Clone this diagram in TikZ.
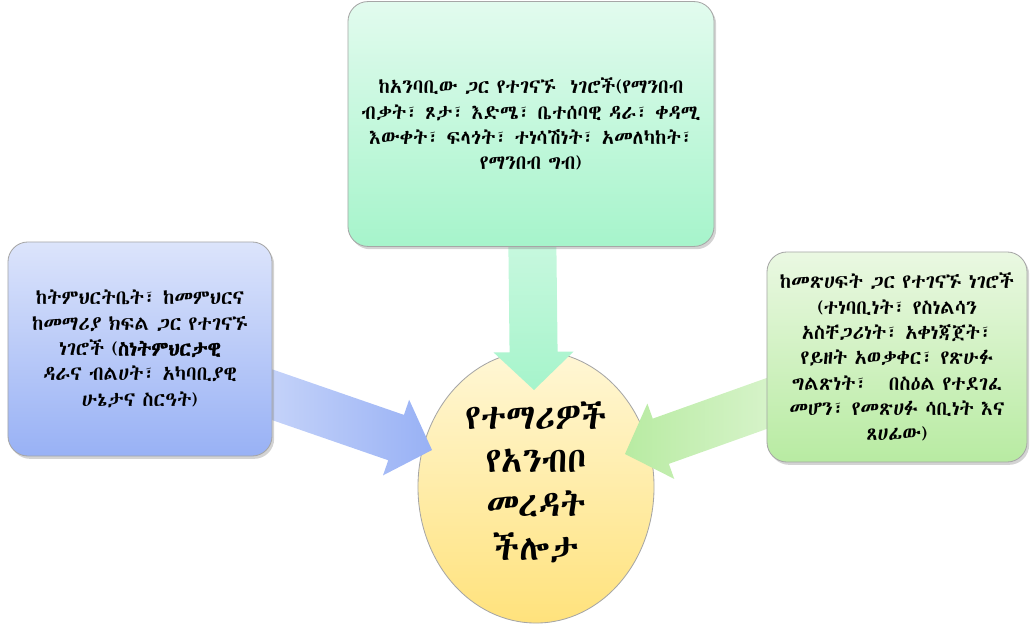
\documentclass[tikz,border=0pt]{standalone}
\usepackage{fontspec}
\IfFontExistsTF{Abyssinica SIL}{\newfontfamily\geez[AutoFakeBold=2,WordSpace=0.8]{Abyssinica SIL}}{%
 \IfFontExistsTF{FreeSerif}{\newfontfamily\geez[AutoFakeBold=2,WordSpace=0.8]{FreeSerif}}{%
  \IfFontExistsTF{Nyala}{\newfontfamily\geez[AutoFakeBold=2,WordSpace=0.8]{Nyala}}{%
   \newfontfamily\geez[AutoFakeBold=2,WordSpace=0.8]{Noto Sans Ethiopic}}}}
\usetikzlibrary{calc,shapes.geometric,shadows}
\pgfdeclarelayer{back}
\pgfsetlayers{back,main}
\definecolor{mintL}{HTML}{E2FBEE}\definecolor{mintD}{HTML}{A6F4CB}
\definecolor{blueL}{HTML}{DCE4FB}\definecolor{blueD}{HTML}{98B1F5}
\definecolor{greenL}{HTML}{EAF8E2}\definecolor{greenD}{HTML}{B8EBA2}
\definecolor{sunL}{HTML}{FFF7D6}\definecolor{sunD}{HTML}{FFE27C}
\tikzset{
  infobox/.style={draw=gray!70,line width=0.6pt,rounded corners=0.5cm,align=center,inner sep=0pt,
    drop shadow={opacity=0.35,shadow xshift=1.5pt,shadow yshift=-2pt},
    font=\geez\fontsize{14.2pt}{18pt}\selectfont},
  core/.style={ellipse,draw=gray!70,line width=0.6pt,top color=sunL,bottom color=sunD,
    minimum width=5.9cm,minimum height=6.8cm,align=center,
    font=\geez\fontsize{25pt}{31pt}\selectfont}
}
% block arrow: from, tip, shading
\newcommand{\flowarrow}[3]{%
  \coordinate (fa-base) at ($(#2)!0.95cm!(#1)$);
  \shade[#3] ($(#1)!0.6cm!90:(#2)$) -- ($(fa-base)!0.6cm!-90:(#1)$)
    -- ($(fa-base)!1cm!-90:(#1)$) -- (#2) -- ($(fa-base)!1cm!90:(#1)$)
    -- ($(fa-base)!0.6cm!90:(#1)$) -- ($(#1)!0.6cm!-90:(#2)$) -- cycle;
}
\begin{document}
\begin{tikzpicture}[x=0.025cm,y=-0.025cm,line join=round]
	\useasboundingbox (0,0) rectangle (1030,635);
	\begin{pgfonlayer}{back}
		\node[core] (ability) at (536,487) {};
	\end{pgfonlayer}
	\node[align=center,font=\geez\fontsize{25pt}{31pt}\selectfont] (title) at (536,482) {የተማሪዎች\\የአንብቦ\\መረዳት\\ችሎታ};
	\node[infobox,top color=mintL,bottom color=mintD,minimum width=9.15cm,minimum height=6.12cm]%
	(reader) at (531,124) {ከአንባቢው ጋር የተገናኙ \ ነገሮች(የማንበብ\\ብቃት፣ ጾታ፣ እድሜ፣ ቤተሰባዊ ዳራ፣ ቀዳሚ\\እውቀት፣ ፍላጎት፣ ተነሳሽነት፣ አመለካከት፣\\የማንበብ ግብ)};
	\node[infobox,top color=blueL,bottom color=blueD,minimum width=6.6cm,minimum height=5.35cm]%
	(school) at (140,349) {ከትምህርትቤት፣ ከመምህርና\\ከመማሪያ ክፍል ጋር የተገናኙ\\ነገሮች ({\bfseries ስነትምህርታዊ}\\ዳራና ብልሀት፣ አካባቢያዊ\\ሁኔታና ስርዓት)};
	\node[infobox,top color=greenL,bottom color=greenD,minimum width=6.5cm,minimum height=5.25cm]%
	(text) at (897,357) {ከመጽሀፍት ጋር የተገናኙ ነገሮች\\(ተነባቢነት፣ የስነልሳን\\አስቸጋሪነት፣ አቀነጃጀት፣\\የይዘት አወቃቀር፣ የጽሁፉ\\ግልጽነት፣ \ \ በስዕል የተደገፈ\\መሆን፣ የመጽሀፉ ሳቢነት እና\\ጸሀፊው)};
	\coordinate (ttip) at (534,390);
	\coordinate (ltip) at (432,450);
	\coordinate (rtip) at (625,454);
	\begin{pgfonlayer}{back}
		\flowarrow{reader.center}{ttip}{top color=mintL,bottom color=mintD}
		\flowarrow{school.center}{ltip}{left color=blueL!60!white,right color=blueD}
		\flowarrow{text.center}{rtip}{left color=greenD,right color=greenL!60!white}
	\end{pgfonlayer}
\end{tikzpicture}
\end{document}
